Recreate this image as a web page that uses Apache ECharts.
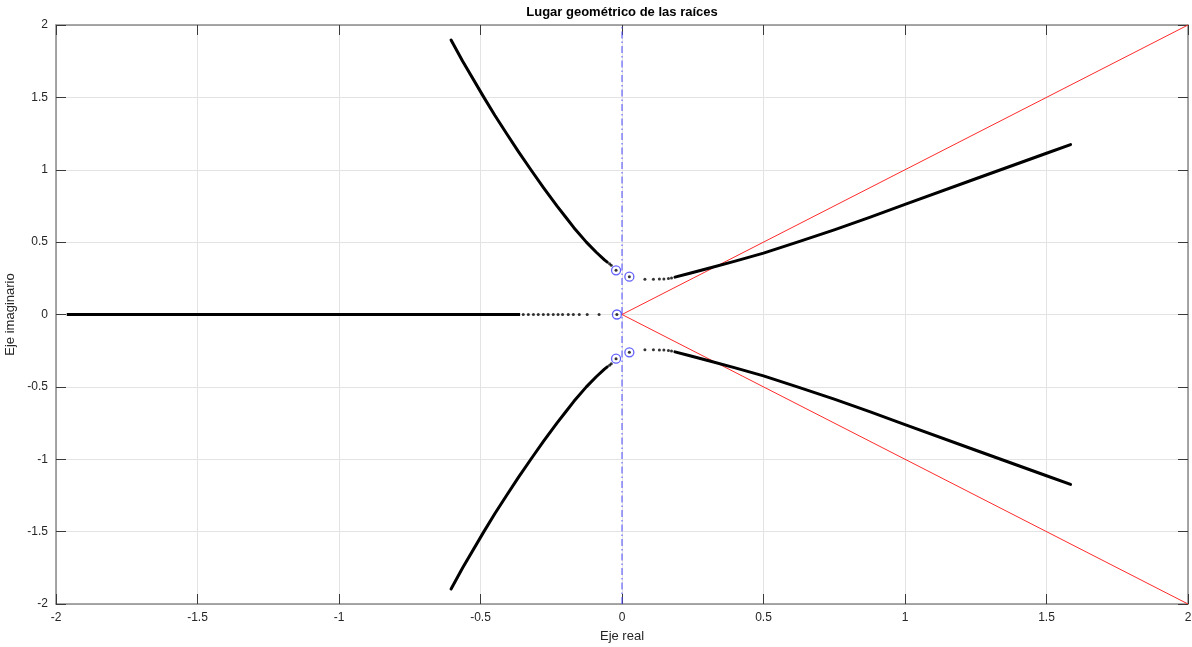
<!DOCTYPE html>
<html>
<head>
<meta charset="utf-8">
<script src="https://cdn.jsdelivr.net/npm/echarts@6/dist/echarts.min.js"></script>
<style>html,body{margin:0;padding:0;background:#fff}#c{width:1192px;height:647px}</style>
</head>
<body>
<div id="c"></div>
<script>
// ---- data ----
const xTicks = [-2, -1.5, -1, -0.5, 0, 0.5, 1, 1.5, 2];
const yTicks = [-2, -1.5, -1, -0.5, 0, 0.5, 1, 1.5, 2];

const branchUpperLeft = [[-0.604,1.896],[-0.563,1.75],[-0.488,1.5],[-0.449,1.375],[-0.408,1.25],[-0.366,1.125],[-0.322,1.0],[-0.277,0.875],[-0.230,0.75],[-0.200,0.675],[-0.170,0.6],[-0.126,0.5],[-0.091,0.43],[-0.062,0.377],[-0.052,0.362]];
const branchLowerLeft = [[-0.604,-1.896],[-0.563,-1.75],[-0.488,-1.5],[-0.449,-1.375],[-0.408,-1.25],[-0.366,-1.125],[-0.322,-1.0],[-0.277,-0.875],[-0.230,-0.75],[-0.200,-0.675],[-0.170,-0.6],[-0.126,-0.5],[-0.091,-0.43],[-0.062,-0.377],[-0.052,-0.362]];
const branchUpperRight = [[0.187,0.258],[0.240,0.285],[0.300,0.316],[0.400,0.369],[0.500,0.424],[0.625,0.503],[0.750,0.585],[0.875,0.671],[1.000,0.761],[1.250,0.938],[1.500,1.114],[1.585,1.174]];
const branchLowerRight = [[0.187,-0.258],[0.240,-0.285],[0.300,-0.316],[0.400,-0.369],[0.500,-0.424],[0.625,-0.503],[0.750,-0.585],[0.875,-0.671],[1.000,-0.761],[1.250,-0.938],[1.500,-1.114],[1.585,-1.174]];
const branchReal = [[-1.962,0],[-0.36,0]];

const dotsReal = [-0.349,-0.331,-0.313,-0.296,-0.278,-0.261,-0.243,-0.226,-0.210,-0.190,-0.172,-0.151,-0.123,-0.081];
const dotsUpperLeft = [[-0.044,0.350],[-0.038,0.340]];
const dotsLowerLeft = [[-0.044,-0.350],[-0.038,-0.340]];
const dotsUpperRight = [[0.081,0.243],[0.111,0.243],[0.132,0.245],[0.148,0.246],[0.164,0.248],[0.175,0.252]];
const dotsLowerRight = [[0.081,-0.243],[0.111,-0.243],[0.132,-0.245],[0.148,-0.246],[0.164,-0.248],[0.175,-0.252]];

const poles = [[-0.021,0.305],[0.026,0.261],[-0.018,0],[-0.021,-0.305],[0.026,-0.261]];

const asymptoteUp = [[0,0],[2,2]];
const asymptoteDown = [[0,0],[2,-2]];
const imagAxisLine = [[0,-2],[0,2]];

// ---- chart ----
const FONT = 'Liberation Sans, Arial, Helvetica, sans-serif';
const axisCol = '#8a8a8a';
const tickCol = '#3a3a3a';
const labCol = '#262626';

function locusLine(d){
  return {type:'line', data:d, showSymbol:false, smooth:false, lineStyle:{color:'#000', width:3, join:'round', cap:'round'}, z:5};
}
function dots(d){
  return {type:'scatter', data:d, symbol:'circle', symbolSize:3, itemStyle:{color:'#000'}, z:5};
}
function fmt(ticks){
  return v=>{const t=ticks.find(a=>Math.abs(a-v)<1e-9);return t===undefined?'':String(t);};
}

const chart = echarts.init(document.getElementById('c'), null, {renderer:'canvas'});
const baseX = {type:'value', min:-2, max:2, interval:0.5};
const baseY = {type:'value', min:-2, max:2, interval:0.5};
chart.setOption({
  animation:false,
  backgroundColor:'#fff',
  grid:{left:56, right:4, top:25, bottom:43, containLabel:false, outerBoundsMode:'none'},
  xAxis:[
    Object.assign({}, baseX, {
      position:'bottom',
      name:'Eje real', nameLocation:'middle', nameGap:26,
      nameTextStyle:{fontFamily:FONT, fontSize:13, color:labCol},
      axisLine:{show:true, onZero:false, lineStyle:{color:axisCol, width:1.5}},
      axisTick:{show:true, inside:true, length:10, lineStyle:{color:tickCol}},
      axisLabel:{margin:8, fontFamily:FONT, fontSize:12, color:labCol, formatter:fmt(xTicks)},
      splitLine:{show:true, lineStyle:{color:'#e3e3e3', width:1}}
    }),
    Object.assign({}, baseX, {
      position:'top',
      axisLine:{show:true, onZero:false, lineStyle:{color:axisCol, width:1.5}},
      axisTick:{show:true, inside:true, length:10, lineStyle:{color:tickCol}},
      axisLabel:{show:false}, splitLine:{show:false}
    })
  ],
  yAxis:[
    Object.assign({}, baseY, {
      position:'left',
      name:'Eje imaginario', nameLocation:'middle', nameGap:34,
      nameTextStyle:{fontFamily:FONT, fontSize:13, color:labCol},
      axisLine:{show:true, onZero:false, lineStyle:{color:axisCol, width:1.5}},
      axisTick:{show:true, inside:true, length:10, lineStyle:{color:tickCol}},
      axisLabel:{margin:8, fontFamily:FONT, fontSize:12, color:labCol, formatter:fmt(yTicks)},
      splitLine:{show:true, lineStyle:{color:'#e3e3e3', width:1}}
    }),
    Object.assign({}, baseY, {
      position:'right',
      axisLine:{show:true, onZero:false, lineStyle:{color:axisCol, width:1.5}},
      axisTick:{show:true, inside:true, length:10, lineStyle:{color:tickCol}},
      axisLabel:{show:false}, splitLine:{show:false}
    })
  ],
  graphic:[{
    type:'text', x:622, y:12, z:100,
    style:{text:'Lugar geométrico de las raíces', fontFamily:FONT, fontSize:13, fontWeight:'bold', fill:'#000', textAlign:'center', textVerticalAlign:'middle'}
  }],
  series:[
    {type:'line', data:imagAxisLine, showSymbol:false, lineStyle:{color:'#4a4aff', width:1, type:[7,3,1.5,3]}, z:2},
    {type:'line', data:asymptoteUp, showSymbol:false, lineStyle:{color:'#ff2a2a', width:1}, z:3},
    {type:'line', data:asymptoteDown, showSymbol:false, lineStyle:{color:'#ff2a2a', width:1}, z:3},
    locusLine(branchUpperLeft),
    locusLine(branchLowerLeft),
    locusLine(branchUpperRight),
    locusLine(branchLowerRight),
    {type:'line', data:branchReal, showSymbol:false, lineStyle:{color:'#000', width:3}, z:5},
    dots(dotsReal.map(x=>[x,0])),
    dots(dotsUpperLeft), dots(dotsLowerLeft), dots(dotsUpperRight), dots(dotsLowerRight),
    {type:'scatter', data:poles, symbol:'circle', symbolSize:9, itemStyle:{color:'rgba(255,255,255,0)', borderColor:'#3b3bff', borderWidth:1.3}, z:7},
    {type:'scatter', data:poles, symbol:'circle', symbolSize:3, itemStyle:{color:'#000'}, z:8}
  ]
});
</script>
</body>
</html>
